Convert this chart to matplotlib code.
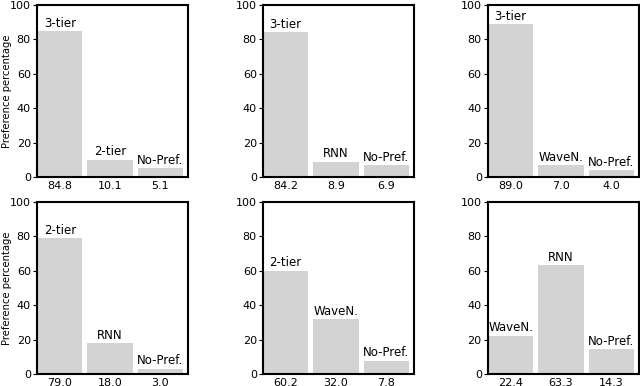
import numpy as np
import matplotlib
matplotlib.use("Agg")
import matplotlib.pyplot as plt

# one list of names and one list of values per panel
names_1 = ["3-tier", "2-tier", "No-Pref."]
vals_1 = [84.8, 10.1, 5.1]
names_2 = ["3-tier", "RNN", "No-Pref."]
vals_2 = [84.2, 8.9, 6.9]
names_3 = ["3-tier", "WaveN.", "No-Pref."]
vals_3 = [89.0, 7.0, 4.0]
names_4 = ["2-tier", "RNN", "No-Pref."]
vals_4 = [79.0, 18.0, 3.0]
names_5 = ["2-tier", "WaveN.", "No-Pref."]
vals_5 = [60.2, 32.0, 7.8]
names_6 = ["WaveN.", "RNN", "No-Pref."]
vals_6 = [22.4, 63.3, 14.3]

panels = [(names_1, vals_1), (names_2, vals_2), (names_3, vals_3),
          (names_4, vals_4), (names_5, vals_5), (names_6, vals_6)]

lefts = [0.058, 0.411, 0.7625]
bottoms = [0.5415, 0.031]
w = 0.236
h = 0.4455

fig = plt.figure(figsize=(6.4, 3.86), dpi=100)

for i, (names, vals) in enumerate(panels):
    row = i // 3
    col = i % 3
    ax = fig.add_axes([lefts[col], bottoms[row], w, h])
    x = np.arange(len(vals))
    ax.bar(x, vals, width=0.9, align="edge", color="#d3d3d3", edgecolor="none")
    for xi, v, n in zip(x, vals, names):
        ax.text(xi + 0.45, v + 0.8, n, ha="center", va="bottom", fontsize=8.5)
    ax.set_xlim(0, 3)
    ax.set_ylim(0, 100)
    ax.set_yticks(np.arange(0, 101, 20))
    ax.set_xticks(x + 0.45)
    ax.set_xticklabels(["%.1f" % v for v in vals])
    ax.tick_params(axis="x", length=0, labelsize=8, pad=3)
    ax.tick_params(axis="y", direction="out", length=3, labelsize=8, pad=1.5)
    for s in ax.spines.values():
        s.set_linewidth(1.5)
    if col == 0:
        ax.set_ylabel("Preference percentage", fontsize=7.2)
        ax.yaxis.set_label_coords(-0.165, 0.5)

fig.savefig("out.png", dpi=100)
